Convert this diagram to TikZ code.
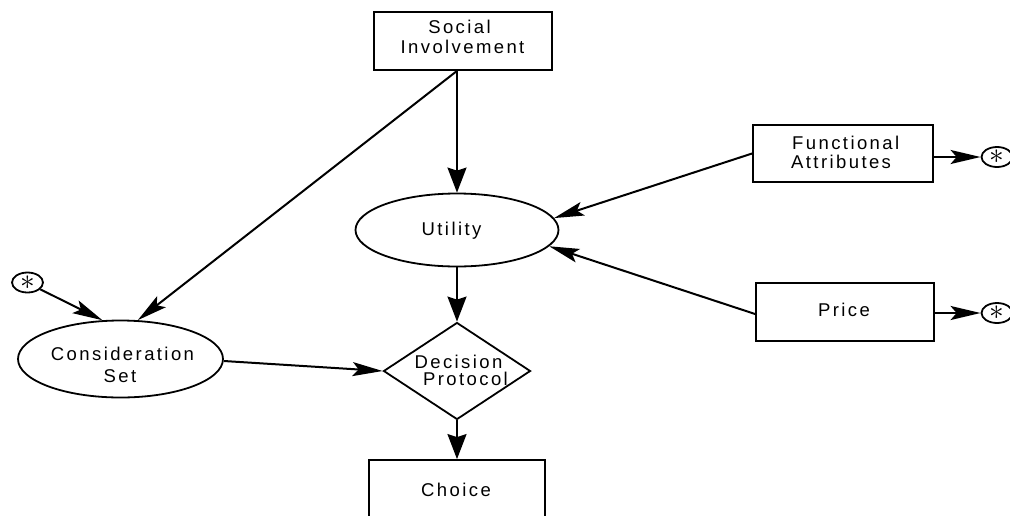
\documentclass[tikz,border=0pt]{standalone}
\usepackage{fontspec}
\setmainfont{Liberation Sans}[LetterSpace=13]
\usetikzlibrary{shapes.geometric,arrows.meta}
\begin{document}
\begin{tikzpicture}[x=1pt,y=-1pt,
  font=\fontsize{18.5}{20}\selectfont,
  shp/.style={draw,line width=1.8pt,inner sep=0pt},
  boxn/.style={shp,rectangle},
  elln/.style={shp,ellipse},
  dian/.style={shp,diamond},
  lbl/.style={anchor=base,inner sep=0pt},
  starn/.style={shp,ellipse,minimum width=31pt,minimum height=20pt},
  arr/.style={line width=2pt,-{Stealth[length=30pt,width=14pt,inset=6pt]}},
  varr/.style={line width=2pt,-{Stealth[length=25pt,width=19pt,inset=3pt]}}
]
\path[use as bounding box] (0,0) rectangle (1010,515);
% shapes
\node[boxn,minimum width=178pt,minimum height=58pt] (soc) at (463,41) {};
\node[elln,minimum width=203pt,minimum height=73pt] (util) at (457,230) {};
\node[boxn,minimum width=180pt,minimum height=57pt] (func) at (843,153.5) {};
\node[boxn,minimum width=178pt,minimum height=58pt] (price) at (845,312) {};
\node[elln,minimum width=205pt,minimum height=77pt] (cons) at (120.5,359) {};
\node[dian,minimum width=147pt,minimum height=97pt] (dec) at (457,371) {};
\node[boxn,minimum width=176pt,minimum height=64pt] (choice) at (457,492) {};
\node[starn] (starF) at (997,157) {\scalebox{1.7}{$\ast$}};
\node[starn] (starP) at (997,313) {\scalebox{1.7}{$\ast$}};
\node[starn] (starL) at (27.5,282.5) {\scalebox{1.7}{$\ast$}};
% texts
\node[lbl] (socA) at (459.5,33) {Social};
\node[lbl] (socB) at (462.5,53) {Involvement};
\node[lbl,anchor=base west] (funcA) at (792,149) {Functional};
\node[lbl,anchor=base west] (funcB) at (791,168) {Attributes};
\node[lbl] (priceT) at (844,316) {Price};
\node[lbl] (utilT) at (451.5,235) {Utility};
\node[lbl] (consA) at (122.5,360) {Consideration};
\node[lbl] (consB) at (120,382) {Set};
\node[lbl] (decA) at (458.5,368) {Decision};
\node[lbl] (decB) at (465.5,385) {Protocol};
\node[lbl] (choiceT) at (456,496) {Choice};
% connectors
\coordinate (socOut) at ([xshift=-6pt]soc.south);
\draw[varr] (socOut) -- (util.north);
\draw[arr] (socOut) -- (cons.66);
\draw[arr] (func.west) -- (util.7);
\draw[arr] ([yshift=-2pt]price.west) -- (util.-10);
\draw[arr] (func.east |- starF.west) -- (starF.west);
\draw[arr] (price.east |- starP.west) -- (starP.west);
\draw[arr] (starL.-28) -- (cons.115);
\draw[arr] ([yshift=-2pt]cons.east) -- (dec.west);
\draw[varr] (util.south) -- (dec.north);
\draw[varr] (dec.south) -- (choice.north);
\end{tikzpicture}
\end{document}
